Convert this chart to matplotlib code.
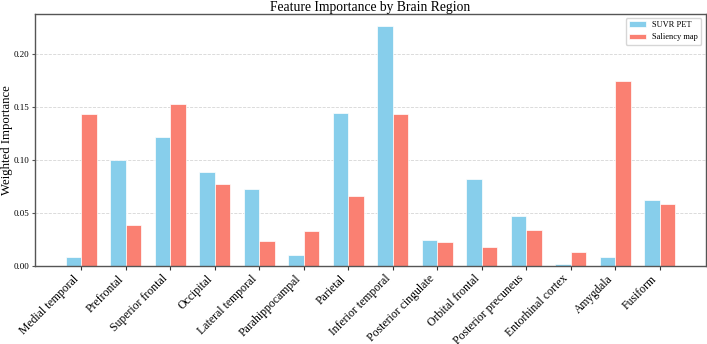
import matplotlib
matplotlib.use("Agg")
import matplotlib.pyplot as plt
import numpy as np

plt.rcParams['font.family'] = ['Liberation Serif', 'DejaVu Serif']

regions = ["Medial temporal", "Prefrontal", "Superior frontal", "Occipital",
           "Lateral temporal", "Parahippocampal", "Parietal", "Inferior temporal",
           "Posterior cingulate", "Orbital frontal", "Posterior precuneus",
           "Entorhinal cortex", "Amygdala", "Fusiform"]
suvr_pet = [0.0085, 0.100, 0.122, 0.089, 0.073, 0.010, 0.145, 0.227,
            0.0244, 0.082, 0.0474, 0.0016, 0.0082, 0.0623]
saliency = [0.144, 0.039, 0.153, 0.077, 0.024, 0.033, 0.066, 0.1433,
            0.0228, 0.018, 0.0335, 0.0133, 0.175, 0.0588]

fig, ax = plt.subplots(figsize=(7.07, 3.44), dpi=100)
x = np.arange(len(regions))
w = 0.35
ax.bar(x - w/2, suvr_pet, w, color='#87CEEB', edgecolor='white', linewidth=0.5, label='SUVR PET', zorder=2)
ax.bar(x + w/2, saliency, w, color='#FA8072', edgecolor='white', linewidth=0.5, label='Saliency map', zorder=2)

ax.set_xticks(x)
ax.set_xticklabels(regions, rotation=45, ha='right', fontsize=8.5)
ax.tick_params(axis='y', labelsize=6.5, length=2.5, color='#555555', pad=2)
ax.tick_params(axis='x', length=3, color='#333333', pad=2)
ax.set_ylabel('Weighted Importance', fontsize=9.2)
ax.yaxis.set_label_coords(-0.033, 0.5)
ax.set_title('Feature Importance by Brain Region', fontsize=9.8, pad=2)
ax.yaxis.grid(True, linestyle='--', color='#cccccc', linewidth=0.6, alpha=0.8, zorder=0)
ax.set_axisbelow(True)
for s in ax.spines.values():
    s.set_color('#555555')
    s.set_linewidth(1.0)
leg = ax.legend(loc='upper right', fontsize=6, frameon=True, fancybox=True)
leg.get_frame().set_edgecolor('#cccccc')

fig.subplots_adjust(left=0.05, right=0.998, top=0.96, bottom=0.227)
fig.savefig('out.png', dpi=100)
